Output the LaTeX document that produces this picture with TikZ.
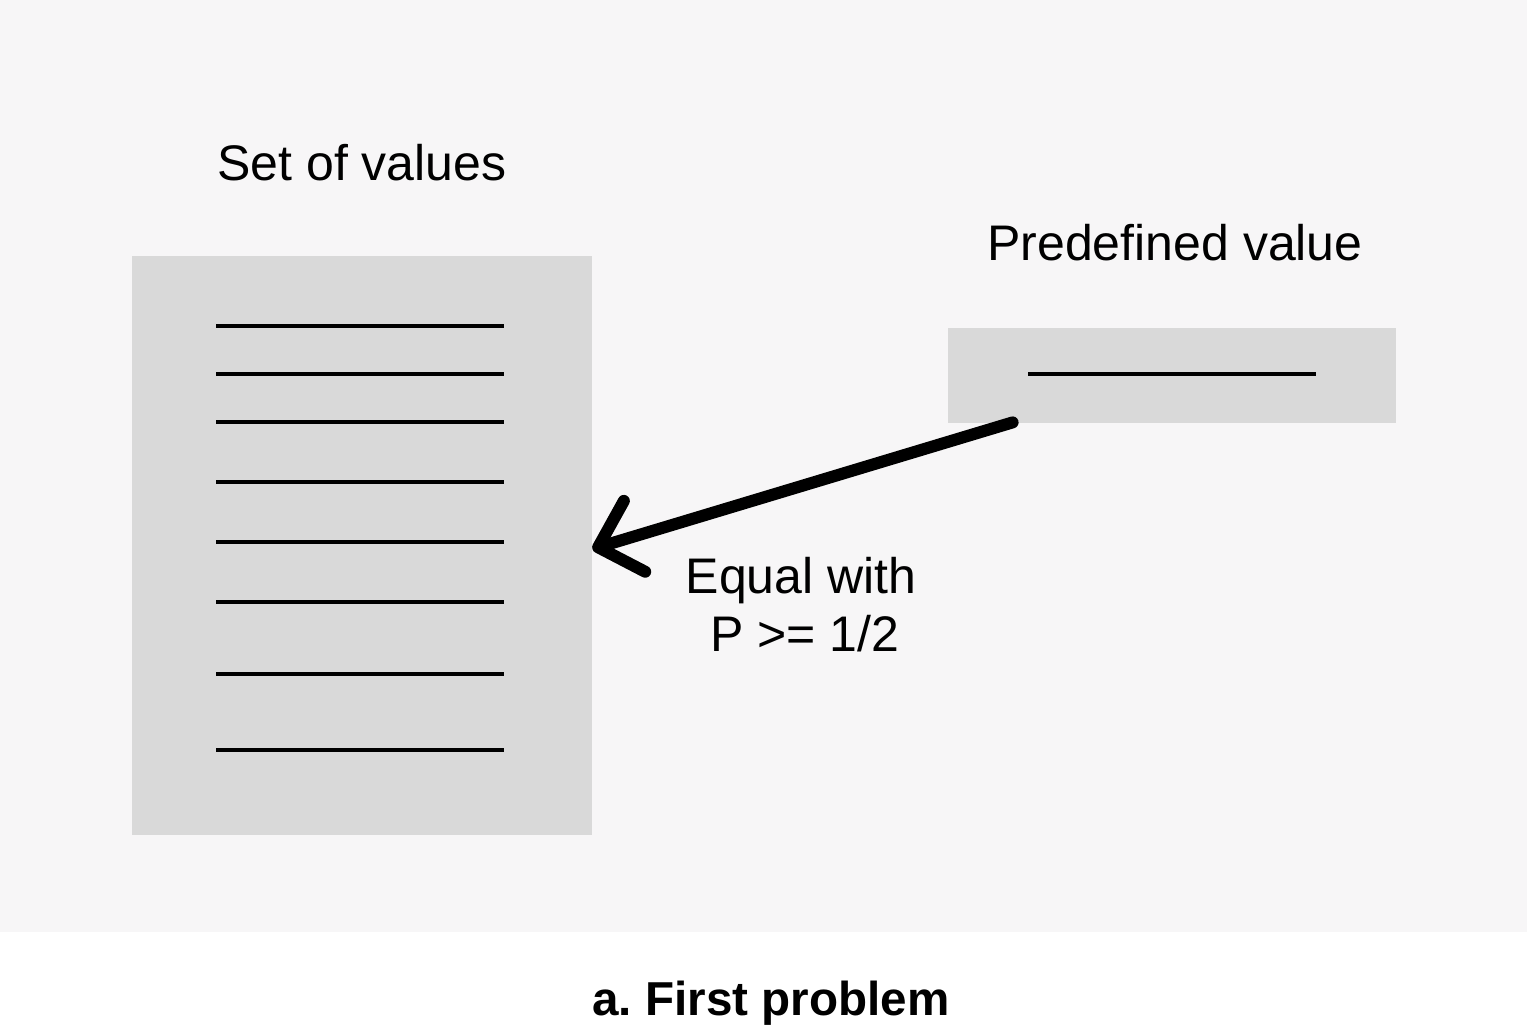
\documentclass[tikz,border=0pt]{standalone}
\usepackage{fontspec}
\setmainfont{Liberation Sans}
\usetikzlibrary{arrows.meta,calc}
\definecolor{panelbg}{HTML}{F7F6F7}
\definecolor{boxfill}{HTML}{D9D9D9}
\frenchspacing
\begin{document}
\begin{tikzpicture}[x=0.5pt,y=-0.5pt,
  panel/.style={fill=boxfill,draw=none},
  entry/.style={line width=2pt,black},
  label/.style={anchor=base,inner sep=0pt,font=\fontsize{25}{30}\selectfont},
  caption/.style={anchor=base,inner sep=0pt,font=\fontsize{23.8}{28}\selectfont\bfseries},
  bigarrow/.style={line width=6pt,line cap=round,
    -{Straight Barb[length=19pt,width=37pt,line cap=round,line join=round]}}]
  % canvas
  \useasboundingbox (0,0) rectangle (1527,1035);
  \fill[white] (0,0) rectangle (1527,1035);
  \fill[panelbg] (0,0) rectangle (1527,932);

  % set of values
  \node[panel,minimum width=230pt,minimum height=289.5pt,inner sep=0pt] (lbox) at (362,545.5) {};
  \foreach \yy in {326,374,422,482,542,602,674,750}
    \draw[entry] (216,\yy) -- (504,\yy);
  \node[label] (ltitle) at (362,180) {Set of values};

  % predefined value
  \node[panel,minimum width=224pt,minimum height=47.5pt,inner sep=0pt] (rbox) at (1172,375.5) {};
  \draw[entry] (1028,374) -- (1316,374);
  \node[label] (rtitle) at (1175,260) {Predefined value};

  % comparison arrow
  \coordinate (src) at ($(rbox.south west)+(65,-1)$);
  \coordinate (dst) at ($(lbox.east)+(0,3.5)$);
  \draw[bigarrow] (src) -- (dst);
  \node[label] (eq1) at (801,593) {Equal with};
  \node[label] (eq2) at (805,651) {P >= 1/2};

  % caption
  \node[caption] (cap) at (771,1015) {a. First problem};
\end{tikzpicture}
\end{document}
